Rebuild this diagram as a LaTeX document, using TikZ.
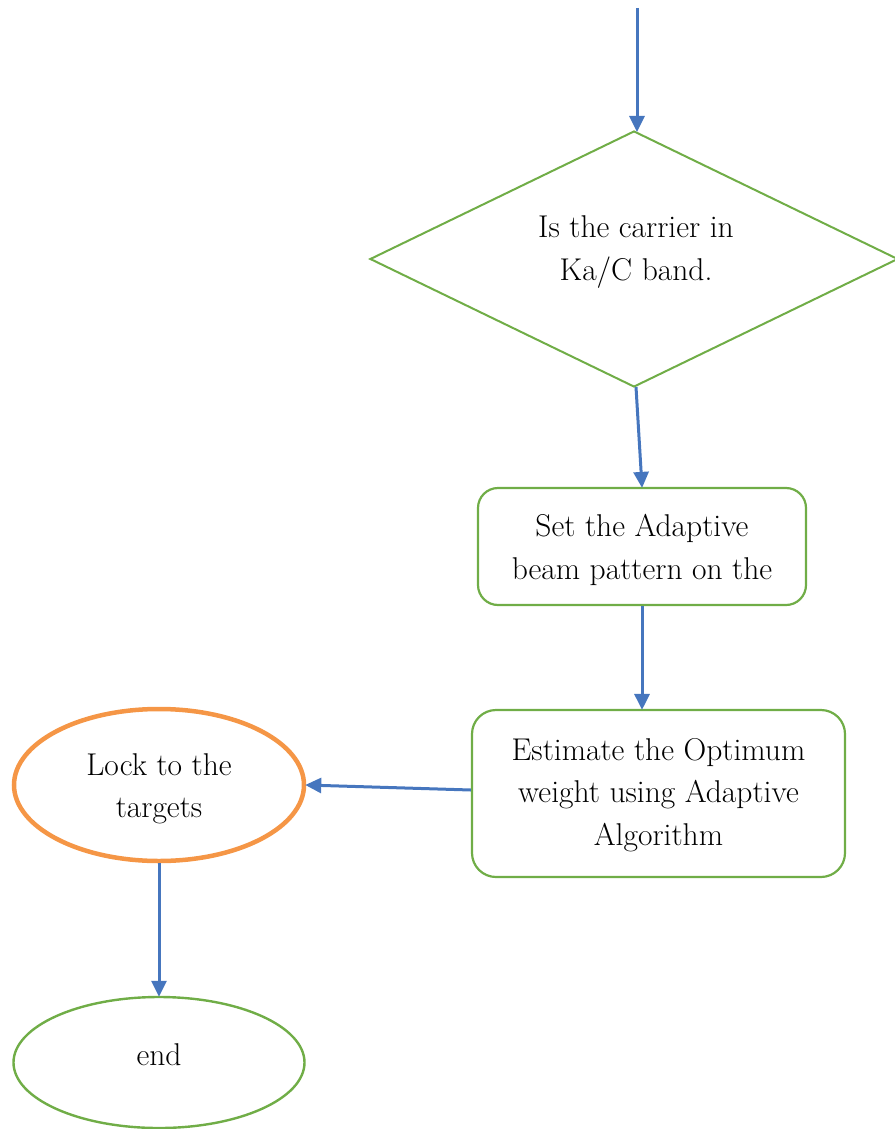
\documentclass[tikz,border=0pt]{standalone}
\usetikzlibrary{arrows.meta,shapes.geometric}
\definecolor{flowgreen}{RGB}{112,173,71}
\definecolor{flowblue}{RGB}{70,118,190}
\definecolor{floworange}{RGB}{245,150,70}
\tikzset{
  x=1pt, y=-1pt,
  lbl/.style={align=center, font=\fontsize{31.5}{42.5}\selectfont, inner sep=0pt},
  decision/.style={diamond, draw=flowgreen, line width=2pt, inner sep=0pt,
                   minimum width=528pt, minimum height=256pt, aspect=2.06},
  process/.style={rectangle, rounded corners=20pt, draw=flowgreen, line width=2.2pt},
  terminal/.style={ellipse, draw=flowgreen, line width=2.4pt, inner sep=0pt},
  goal/.style={ellipse, draw=floworange, line width=4.5pt, inner sep=0pt},
  flow/.style={draw=flowblue, line width=3pt,
               -{Triangle[length=16pt,width=15pt]}, shorten >=-1pt}
}
\begin{document}
\begin{tikzpicture}
\useasboundingbox (0,0) rectangle (894,1129);

% decision
\coordinate (start) at (637,8);
\node[decision] (band) at (634,259) {};
\node[lbl] (bandtxt) at (636,252) {Is the carrier in\\Ka/C band.};

% processing steps
\node[process, minimum width=328pt, minimum height=117pt] (pattern) at (642,546.5) {};
\node[lbl] (patterntxt) at (642,550) {Set the Adaptive\\beam pattern on the};

\node[process, rounded corners=24pt, minimum width=373pt, minimum height=167pt] (weight) at (658.5,793.5) {};
\node[lbl] (weighttxt) at (658.5,795) {Estimate the Optimum\\weight using Adaptive\\Algorithm};

% terminals
\node[goal, minimum width=290pt, minimum height=152pt] (lock) at (159,785) {};
\node[lbl] (locktxt) at (159,789) {Lock to the\\targets};

\node[terminal, minimum width=291pt, minimum height=131pt] (end) at (159,1062.5) {};
\node[lbl] (endtxt) at (159,1055) {end};

% connectors
\draw[flow] (start) -- (637,131);
\draw[flow] (636,387) -- (pattern.north);
\draw[flow] (pattern.south) -- ([xshift=1pt]weight.north -| 641,0);
\draw[flow] (weight.west |- 0,790) -- (lock.east);
\draw[flow] (lock.south) -- (end.north);
\end{tikzpicture}
\end{document}
